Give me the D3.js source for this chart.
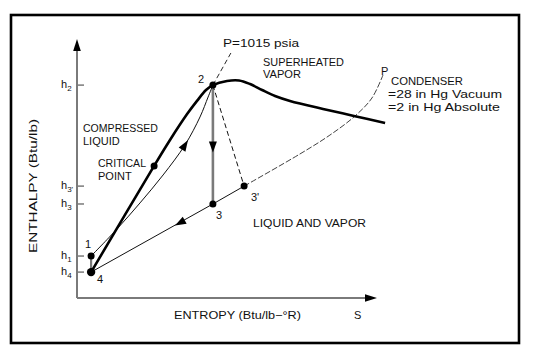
<!DOCTYPE html>
<html><head><meta charset="utf-8">
<script src="https://cdn.jsdelivr.net/npm/d3@7"></script>
<style>body{margin:0;background:#fff}svg{display:block}</style>
</head><body><svg id="c" width="534" height="356"></svg>
<script>
// ---- data (entropy s, enthalpy h, arbitrary units) ----
const statePoints = [
  {id:"1",  s:0.47, h:1.62},
  {id:"4",  s:0.47, h:1.00},
  {id:"2",  s:4.53, h:8.22},
  {id:"3",  s:4.53, h:3.63},
  {id:"3'", s:5.57, h:4.32},
  {id:"cp", s:2.57, h:5.10}
];
const enthalpyTicks = [
  {sub:"2",  h:8.22},
  {sub:"3'", h:4.32},
  {sub:"3",  h:3.63},
  {sub:"1",  h:1.62},
  {sub:"4",  h:1.00}
];
const domeCurve = [[0.47,1.00],[2.57,5.10],[3.10,6.10],[3.67,7.10],[4.00,7.61],[4.30,8.03],[4.53,8.22],[5.00,8.38],[5.40,8.40],[5.77,8.26],[6.17,8.03],[6.60,7.80],[7.10,7.61],[8.20,7.30],[9.23,7.03],[10.27,6.76]];
const boilerLine = [[0.47,1.62],[1.33,2.66],[2.10,3.67],[2.87,4.75],[3.60,5.91],[4.10,6.99],[4.37,7.76],[4.53,8.22]];
const boilerExt = [[4.53,8.22],[5.13,9.46]];
const condenserLine = [[0.47,1.00],[4.53,3.63],[5.57,4.32]];
const condenserExt = [[5.57,4.32],[7.43,5.56],[8.43,6.29],[9.27,7.03],[9.83,7.72],[10.20,8.61]];
const actualExpansion = [[4.53,8.22],[5.57,4.32]];
const idealExpansion = [[4.53,8.22],[4.53,3.63]];
const pumpLine = [[0.47,1.00],[0.47,1.62]];
const flowArrows = [
  {at:[3.60,5.91], from:[2.87,4.75], to:[4.10,6.99]},
  {at:[4.53,5.83], from:[4.53,8.22], to:[4.53,3.63]},
  {at:[3.43,2.90], from:[4.53,3.63], to:[0.47,1.00]}
];

// ---- scales ----
const x = d3.scaleLinear().domain([0,10]).range([77,377]);
const y = d3.scaleLinear().domain([0,10]).range([298,39]);
const svg = d3.select("#c");
const FONT = "Liberation Sans, Arial, sans-serif";
const INK = "#111";
const GRAY = "#7a7a7a";

// frame
svg.append("rect").attr("x",11).attr("y",15).attr("width",508).attr("height",328)
  .attr("fill","none").attr("stroke","#000").attr("stroke-width",2.6);

// axes
svg.append("line").attr("x1",x(0)).attr("y1",y(0)).attr("x2",x(0)).attr("y2",y(10)+8)
  .attr("stroke",GRAY).attr("stroke-width",2);
svg.append("line").attr("x1",x(0)).attr("y1",y(0)).attr("x2",x(10)-8).attr("y2",y(0))
  .attr("stroke",GRAY).attr("stroke-width",2);
svg.append("path").attr("d",`M${x(0)},${y(10)} L${x(0)-3.8},${y(10)+12} L${x(0)+3.8},${y(10)+12}Z`).attr("fill","#000");
svg.append("path").attr("d",`M${x(10)},${y(0)} L${x(10)-12},${y(0)-3.8} L${x(10)-12},${y(0)+3.8}Z`).attr("fill","#000");

// ticks
const tg = svg.append("g");
enthalpyTicks.forEach(t=>{
  tg.append("line").attr("x1",x(0)).attr("x2",x(0)+7).attr("y1",y(t.h)).attr("y2",y(t.h))
    .attr("stroke",GRAY).attr("stroke-width",1.5);
  const tx = tg.append("text").attr("x",x(0)-16).attr("y",y(t.h)+3)
    .attr("font-family",FONT).attr("font-size",11).attr("fill",INK);
  tx.append("tspan").text("h");
  tx.append("tspan").attr("dy",3).attr("font-size",8).text(t.sub);
});

const line = d3.line().x(d=>x(d[0])).y(d=>y(d[1]));
const curve = d3.line().x(d=>x(d[0])).y(d=>y(d[1])).curve(d3.curveCatmullRom.alpha(0.5));

svg.append("path").attr("d",line(pumpLine)).attr("stroke",GRAY).attr("stroke-width",2.2).attr("fill","none");
svg.append("path").attr("d",line(idealExpansion)).attr("stroke",GRAY).attr("stroke-width",2.6).attr("fill","none");
svg.append("path").attr("d",curve(boilerLine)).attr("stroke",INK).attr("stroke-width",1).attr("fill","none");
svg.append("path").attr("d",line(boilerExt)).attr("stroke",INK).attr("stroke-width",0.9).attr("stroke-dasharray","5,3").attr("fill","none");
svg.append("path").attr("d",line(condenserLine)).attr("stroke",INK).attr("stroke-width",1).attr("fill","none");
svg.append("path").attr("d",curve(condenserExt)).attr("stroke",INK).attr("stroke-width",0.8).attr("stroke-dasharray","6,2").attr("fill","none");
svg.append("path").attr("d",line(actualExpansion)).attr("stroke",INK).attr("stroke-width",1).attr("stroke-dasharray","5,3").attr("fill","none");
svg.append("path").attr("d",curve(domeCurve)).attr("stroke","#000").attr("stroke-width",2.6).attr("fill","none");

// flow arrows
flowArrows.forEach(a=>{
  const cx=x(a.at[0]), cy=y(a.at[1]);
  let dx=x(a.to[0])-x(a.from[0]), dy=y(a.to[1])-y(a.from[1]);
  const L=Math.hypot(dx,dy); dx/=L; dy/=L;
  const len=11, hw=4;
  const tipx=cx+dx*len/2, tipy=cy+dy*len/2, bx=cx-dx*len/2, by=cy-dy*len/2;
  svg.append("path").attr("d",`M${tipx},${tipy} L${bx-dy*hw},${by+dx*hw} L${bx+dy*hw},${by-dx*hw}Z`).attr("fill","#000");
});

// state points
svg.selectAll("circle.pt").data(statePoints).join("circle").attr("class","pt")
  .attr("cx",d=>x(d.s)).attr("cy",d=>y(d.h)).attr("r",d=>d.id==="4"?4.2:3.5).attr("fill","#000");

// texts
function txt(str,px,py,opts={}){
  const t=svg.append("text").attr("x",px).attr("y",py).attr("font-family",FONT)
    .attr("font-size",opts.size||11).attr("fill",INK).text(str);
  if(opts.len) t.attr("textLength",opts.len).attr("lengthAdjust","spacingAndGlyphs");
  if(opts.anchor) t.attr("text-anchor",opts.anchor);
  return t;
}
txt("1",85,248);
txt("4",97,283);
txt("2",198,83);
txt("3",216,219);
txt("3'",251,201);
txt("P=1015 psia",223,47,{len:76});
txt("SUPERHEATED",263,66,{len:81});
txt("VAPOR",263,78,{len:38});
txt("P",381,75);
txt("CONDENSER",391,85,{len:72});
txt("=28 in Hg Vacuum",388,98,{len:114});
txt("=2 in Hg Absolute",388,111,{len:112});
txt("COMPRESSED",83,132,{len:75});
txt("LIQUID",83,145);
txt("CRITICAL",98,167,{len:48});
txt("POINT",98,180);
txt("LIQUID AND VAPOR",253,227,{len:113});
txt("ENTROPY (Btu/lb\u2212\u00b0R)",174,319,{len:127});
txt("S",354,319);
svg.append("text").attr("transform","translate(37,186) rotate(-90)").attr("text-anchor","middle")
  .attr("font-family",FONT).attr("font-size",11).attr("fill",INK)
  .attr("textLength",134).attr("lengthAdjust","spacingAndGlyphs").text("ENTHALPY (Btu/lb)");
</script></body></html>
